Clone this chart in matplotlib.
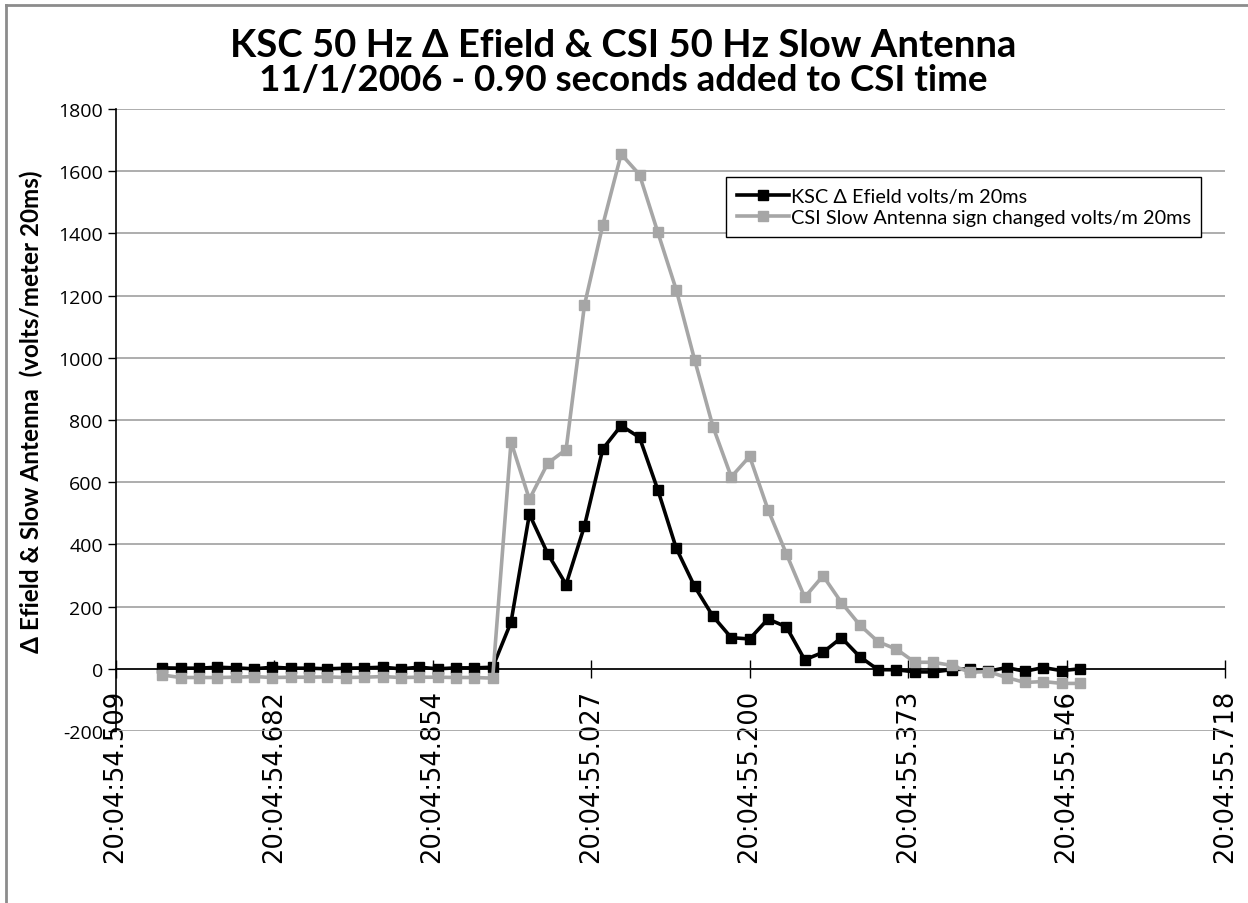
import numpy as np
import matplotlib.pyplot as plt
from matplotlib.lines import Line2D

plt.rcParams['axes.unicode_minus'] = False

# ── data (seconds after 20:04:00, 20 ms steps) ───────────────────────────────
t_start = 54.56
step = 0.02

ksc_efield = [3, 2, 2, 5, 3, 0, 5, 2, 2, 0, 2, 3, 5, 0, 5, 0, 3, 3, 5,
              150, 497, 370, 271, 459, 707, 782, 744, 575, 388, 265, 169,
              100, 96, 160, 135, 29, 53, 100, 39, -3, -3, -10, -10, -3,
              0, -8, 4, -8, 4, -6, 0]

csi_slow = [-20, -28, -28, -28, -27, -25, -28, -27, -27, -26, -28, -27, -25,
            -28, -27, -27, -28, -28, -30,
            730, 545, 661, 705, 1169, 1427, 1655, 1589, 1403, 1219, 994, 779,
            617, 683, 512, 370, 230, 299, 213, 141, 87, 63, 21, 21, 11,
            -11, -9, -28, -44, -41, -47, -47]

x_min, x_max = 54.509, 55.718
tick_labels = ['20:04:54.509', '20:04:54.682', '20:04:54.854', '20:04:55.027',
               '20:04:55.200', '20:04:55.373', '20:04:55.546', '20:04:55.718']

t = t_start + step * np.arange(len(ksc_efield))

W, H, DPI = 1248, 904, 100
fig = plt.figure(figsize=(W / DPI, H / DPI), dpi=DPI)
ax = fig.add_axes([115.5 / W, 1 - 732 / H, (1225 - 115.5) / W, (732 - 110) / H])

grey = '#a6a6a6'
ax.plot(t, ksc_efield, color='black', lw=2.6, marker='s', ms=7.5,
        label='KSC Δ Efield volts/m 20ms', zorder=3)
ax.plot(t, csi_slow, color=grey, lw=2.6, marker='s', ms=7,
        label='CSI Slow Antenna sign changed volts/m 20ms', zorder=4)

ax.set_xlim(x_min, x_max)
ax.set_ylim(-200, 1800)
ax.set_yticks(np.arange(-200, 1801, 200))
ax.set_xticks(np.linspace(x_min, x_max, len(tick_labels)))
ax.set_xticklabels(tick_labels)

ax.grid(axis='y', color='#a0a0a0', lw=1.2)
ax.set_axisbelow(True)
for s in ('top', 'right'):
    ax.spines[s].set_visible(False)
ax.spines['bottom'].set_position(('data', 0))
ax.spines['bottom'].set_linewidth(1.2)
ax.spines['left'].set_linewidth(1.2)
ax.tick_params(axis='x', direction='inout', length=13, width=1, pad=8,
               labelrotation=90, labelsize=18.5, labelfontfamily='DejaVu Sans')
ax.tick_params(axis='y', direction='out', length=6, width=1, pad=3,
               labelsize=14, labelfontfamily='Open Sans')

fig.text(31 / W, 1 - 412 / H, 'Δ Efield & Slow Antenna  (volts/meter 20ms)',
         rotation=90, ha='center', va='center', family='Lato',
         fontweight='bold', fontsize=17.5)

fig.text(623 / W, 1 - 46 / H, 'KSC 50 Hz Δ Efield & CSI 50 Hz Slow Antenna',
         ha='center', va='center', family='Lato', fontweight='bold', fontsize=27.5)
fig.text(623 / W, 1 - 81 / H, '11/1/2006 - 0.90 seconds added to CSI time',
         ha='center', va='center', family='Lato', fontweight='bold', fontsize=26.5)

leg = ax.legend(loc='upper left', bbox_to_anchor=(726 / W, 1 - 178 / H),
                bbox_transform=fig.transFigure, fancybox=False,
                edgecolor='black', framealpha=1, borderpad=0.55,
                borderaxespad=0, handlelength=2.6, handletextpad=0.1,
                labelspacing=0.2, prop={'family': 'Lato', 'size': 14.3})
leg.get_frame().set_linewidth(1.0)

# chart-area border (left and top only are visible)
fig.add_artist(Line2D([6 / W, 6 / W], [0, 1 - 6 / H], color='#8c8c8c', lw=2))
fig.add_artist(Line2D([6 / W, 1], [1 - 6 / H, 1 - 6 / H], color='#8c8c8c', lw=2))

fig.savefig('out.png', dpi=DPI)
